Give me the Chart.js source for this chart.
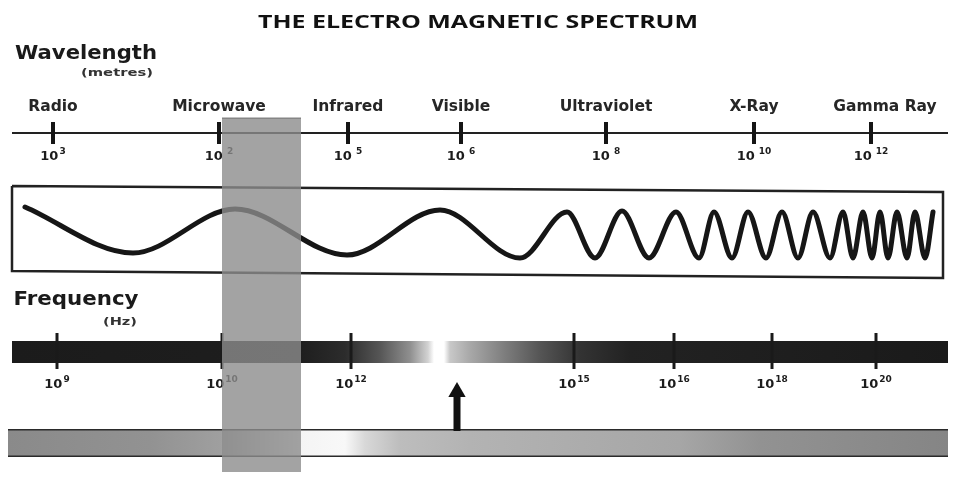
<!DOCTYPE html>
<html>
<head>
<meta charset="utf-8">
<script src="https://cdn.jsdelivr.net/npm/chart.js@4/dist/chart.umd.min.js"></script>
<style>
  html, body { margin: 0; padding: 0; background: #ffffff; }
  #wrap { width: 953px; height: 483px; position: relative; }
</style>
</head>
<body>
<div id="wrap"><canvas id="c"></canvas></div>
<script>
// ---------------- DATA ----------------
const title = "THE ELECTRO MAGNETIC SPECTRUM";
const bands = ["Radio", "Microwave", "Infrared", "Visible", "Ultraviolet", "X-Ray", "Gamma Ray"];
// position of each band's tick along the spectrum axis (0..953 units)
const bandPos = [53, 219, 348, 461, 606, 754, 871];
const wavelengthBase = "10";
const wavelengthExp = ["3", "2", "5", "6", "8", "10", "12"];

// frequency scale
const freqPos = [57, 222, 351, 574, 674, 772, 876];
const freqExp = ["9", "10", "12", "15", "16", "18", "20"];

// wave: successive crests / troughs (x along spectrum, y in drawing units)
const waveX = [25, 133, 235, 347, 440, 520, 567, 595, 622, 649, 676, 699, 714, 732, 748, 766, 782, 798, 813, 830, 843, 853, 863, 872, 880, 888, 897, 907, 915, 925, 933];
const waveY = [207, 253, 209, 255, 210, 258, 212, 258, 211, 258, 212, 258, 212, 258, 212, 258, 212, 258, 212, 258, 212, 258, 212, 258, 212, 258, 212, 258, 212, 258, 212];

// wave frame corners (slightly skewed scan)
const frameX = [12, 943, 943, 12, 12];
const frameY = [186, 192, 278, 271, 186];

// axis / bar extents
const spectrumStart = 12, spectrumEnd = 948;
const bottomStart = 8;
const visibleMark = 457;           // arrow position (visible light)
const highlightFrom = 222, highlightTo = 301;  // grey highlight over microwave

// ---------------- helpers ----------------
const pts = (xs, ys) => xs.map((x, i) => ({ x: x, y: ys[i] }));
const atY = (xs, y) => xs.map(x => ({ x: x, y: y }));

function hGradient(stops, from, to) {
  return function (c) {
    const chart = c.chart;
    const xs = chart.scales && chart.scales.x;
    let x0 = xs ? xs.getPixelForValue(from) : NaN;
    let x1 = xs ? xs.getPixelForValue(to) : NaN;
    if (!isFinite(x0) || !isFinite(x1) || x0 === x1) { x0 = from; x1 = to; }
    const g = chart.ctx.createLinearGradient(x0, 0, x1, 0);
    stops.forEach(s => g.addColorStop(Math.min(1, Math.max(0, (s[0] - from) / (to - from))), s[1]));
    return g;
  };
}

const freqStops = [
  [12, '#1b1b1b'], [300, '#1e1e1e'], [345, '#2c2c2c'], [380, '#565656'], [410, '#8f8f8f'],
  [428, '#d2d2d2'], [434, '#ffffff'], [444, '#ffffff'], [450, '#c8c8c8'], [470, '#a8a8a8'],
  [505, '#7d7d7d'], [540, '#555555'], [580, '#333333'], [630, '#222222'], [948, '#1a1a1a']
];
const bottomStops = [
  [8, '#8a8a8a'], [150, '#929292'], [220, '#9f9f9f'], [300, '#f4f4f4'], [345, '#f8f8f8'],
  [365, '#d8d8d8'], [400, '#bdbdbd'], [470, '#b3b3b3'], [680, '#a6a6a6'], [760, '#929292'],
  [948, '#858585']
];

// ---------------- text plugin ----------------
function drawText(ctx, s, x, y, font, color, width) {
  ctx.save();
  ctx.font = font;
  ctx.fillStyle = color || '#1c1c1c';
  ctx.textBaseline = 'middle';
  ctx.textAlign = 'left';
  const w = ctx.measureText(s).width;
  if (width) {
    ctx.translate(x - width / 2, y);
    ctx.scale(width / w, 1);
    ctx.fillText(s, 0, 0);
  } else {
    ctx.fillText(s, x - w / 2, y);
  }
  ctx.restore();
}
function drawPow(ctx, base, exp, cx, y, size, gap) {
  ctx.save();
  ctx.fillStyle = '#1c1c1c';
  ctx.textBaseline = 'middle';
  ctx.textAlign = 'left';
  ctx.font = 'bold ' + size + 'px "DejaVu Sans"';
  const wb = ctx.measureText(base).width;
  ctx.font = 'bold ' + Math.round(size * 0.72) + 'px "DejaVu Sans"';
  const we = ctx.measureText(exp).width;
  const start = cx - (wb + gap + we) / 2;
  ctx.font = 'bold ' + size + 'px "DejaVu Sans"';
  ctx.fillText(base, start, y);
  ctx.font = 'bold ' + Math.round(size * 0.72) + 'px "DejaVu Sans"';
  ctx.fillText(exp, start + wb + gap, y - size * 0.4);
  ctx.restore();
}

const textPlugin = {
  id: 'spectrumText',
  beforeDatasetsDraw(chart) {
    const ctx = chart.ctx;
    const X = v => chart.scales.x.getPixelForValue(v);
    const Y = v => chart.scales.y.getPixelForValue(v);
    drawText(ctx, title, X(478), Y(23), 'bold 18px "Open Sans"', '#111', 440);
    drawText(ctx, 'Wavelength', X(86), Y(54), 'bold 19px "DejaVu Sans"', '#1a1a1a', 142);
    drawText(ctx, '(metres)', X(117), Y(73), 'bold 10px "DejaVu Sans"', '#333', 72);
    drawText(ctx, 'Frequency', X(76), Y(300), 'bold 19px "DejaVu Sans"', '#1a1a1a', 125);
    drawText(ctx, '(Hz)', X(120), Y(322), 'bold 10px "DejaVu Sans"', '#333', 34);
    bands.forEach((b, i) => {
      const cx = i === bands.length - 1 ? bandPos[i] + 14 : bandPos[i];
      drawText(ctx, b, X(cx), Y(107), 'bold 15.5px "DejaVu Sans"', '#262626');
    });
    wavelengthExp.forEach((e, i) => drawPow(ctx, wavelengthBase, e, X(bandPos[i]), Y(157), 13, i === 0 ? 1 : 4));
    freqExp.forEach((e, i) => drawPow(ctx, wavelengthBase, e, X(freqPos[i]), Y(385), 13, 1));
  }
};

// ---------------- chart ----------------
const lineBase = { pointRadius: 0, pointHoverRadius: 0, fill: false, clip: false, tension: 0 };

new Chart(document.getElementById('c'), {
  type: 'line',
  data: {
    datasets: [
      // grey highlight over the microwave band (drawn on top)
      Object.assign({}, lineBase, {
        data: atY([highlightFrom, highlightTo], 118),
        fill: { value: 472 },
        backgroundColor: 'rgba(140,140,140,0.80)',
        borderColor: 'rgba(80,80,80,0.7)', borderWidth: 1
      }),
      // arrow head (visible light marker)
      {
        data: atY([visibleMark], 392), showLine: false, clip: false,
        pointStyle: 'triangle', pointRadius: 10, backgroundColor: '#111', borderColor: '#111', borderWidth: 0
      },
      // arrow shaft
      Object.assign({}, lineBase, {
        data: [{ x: visibleMark, y: 397 }, { x: visibleMark, y: 431 }],
        borderColor: '#111', borderWidth: 7, borderCapStyle: 'butt'
      }),
      // frequency ticks
      {
        data: atY(freqPos, 351), showLine: false, clip: false,
        pointStyle: 'line', rotation: 90, pointRadius: 18, borderColor: '#1a1a1a', borderWidth: 3
      },
      // frequency band (gradient)
      Object.assign({}, lineBase, {
        data: atY([spectrumStart, spectrumEnd], 352),
        borderWidth: 22, borderCapStyle: 'butt', borderColor: hGradient(freqStops, spectrumStart, spectrumEnd)
      }),
      // bottom bar (gradient) with dark outline
      Object.assign({}, lineBase, {
        data: atY([bottomStart, spectrumEnd], 443),
        borderWidth: 25, borderCapStyle: 'butt', borderColor: hGradient(bottomStops, bottomStart, spectrumEnd)
      }),
      Object.assign({}, lineBase, {
        data: atY([bottomStart, spectrumEnd], 443),
        borderWidth: 28, borderCapStyle: 'butt', borderColor: '#2a2a2a'
      }),
      // the wave
      Object.assign({}, lineBase, {
        data: pts(waveX, waveY), cubicInterpolationMode: 'monotone',
        borderColor: '#161616', borderWidth: 5, borderCapStyle: 'round', borderJoinStyle: 'round'
      }),
      // frame around the wave
      Object.assign({}, lineBase, {
        data: pts(frameX, frameY), borderColor: '#222', borderWidth: 2.5, borderJoinStyle: 'miter'
      }),
      // wavelength ticks
      {
        data: atY(bandPos, 133), showLine: false, clip: false,
        pointStyle: 'line', rotation: 90, pointRadius: 11, borderColor: '#151515', borderWidth: 4
      },
      // wavelength axis line
      Object.assign({}, lineBase, {
        data: atY([spectrumStart, spectrumEnd], 133), borderColor: '#222', borderWidth: 2.2
      })
    ]
  },
  options: {
    responsive: true,
    maintainAspectRatio: false,
    animation: false,
    events: [],
    layout: { padding: 0, autoPadding: false },
    plugins: { legend: { display: false }, tooltip: { enabled: false }, title: { display: false } },
    scales: {
      x: { type: 'linear', min: 0, max: 953, display: false },
      y: { type: 'linear', min: 0, max: 483, reverse: true, display: false }
    }
  },
  plugins: [textPlugin]
});
</script>
</body>
</html>
